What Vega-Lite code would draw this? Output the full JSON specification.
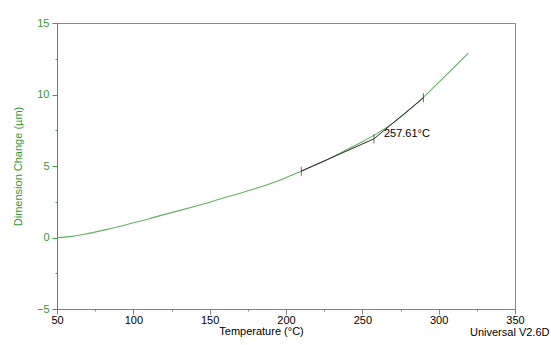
{
  "$schema": "https://vega.github.io/schema/vega-lite/v6.json",
  "width": 458,
  "height": 286,
  "autosize": {"type": "none"},
  "padding": {"left": 57, "top": 23, "right": 36, "bottom": 36},
  "background": "white",
  "config": {
    "font": "Liberation Sans",
    "view": {"stroke": "#8a8a8a", "strokeWidth": 1},
    "axis": {"grid": false, "labelFont": "Liberation Sans", "titleFont": "Liberation Sans", "labelFontSize": 11, "titleFontSize": 11, "titleFontWeight": "normal"}
  },
  "title": {
    "text": "Universal V2.6D TA Instruments",
    "orient": "bottom",
    "anchor": "end",
    "frame": "group",
    "align": "left",
    "dx": -45,
    "offset": -9,
    "fontSize": 11,
    "fontWeight": "normal",
    "font": "Liberation Sans",
    "color": "#000000"
  },
  "datasets": {
    "curve": [
      {"T": 50, "D": 0}, {"T": 60, "D": 0.08}, {"T": 70, "D": 0.27}, {"T": 80, "D": 0.5},
      {"T": 90, "D": 0.75}, {"T": 100, "D": 1.03}, {"T": 110, "D": 1.3}, {"T": 120, "D": 1.6},
      {"T": 130, "D": 1.88}, {"T": 140, "D": 2.17}, {"T": 150, "D": 2.47}, {"T": 160, "D": 2.8},
      {"T": 170, "D": 3.1}, {"T": 180, "D": 3.42}, {"T": 190, "D": 3.77}, {"T": 200, "D": 4.18},
      {"T": 210, "D": 4.64}, {"T": 220, "D": 5.1}, {"T": 230, "D": 5.6}, {"T": 240, "D": 6.15},
      {"T": 250, "D": 6.7}, {"T": 260, "D": 7.3}, {"T": 270, "D": 8.0}, {"T": 280, "D": 8.85},
      {"T": 290, "D": 9.8}, {"T": 300, "D": 10.85}, {"T": 310, "D": 11.9}, {"T": 319.4, "D": 12.9}
    ],
    "tangents": [
      {"seg": "a", "T": 210, "D": 4.64}, {"seg": "a", "T": 257.61, "D": 6.9},
      {"seg": "b", "T": 257.61, "D": 6.9}, {"seg": "b", "T": 290, "D": 9.77}
    ],
    "marks": [
      {"T": 210, "D": 4.64, "label": ""},
      {"T": 257.61, "D": 6.9, "label": "257.61°C"},
      {"T": 290, "D": 9.77, "label": ""}
    ],
    "border": [{"T": 350}]
  },
  "encoding": {
    "x": {
      "field": "T", "type": "quantitative",
      "scale": {"domain": [50, 350], "nice": false, "zero": false},
      "axis": {
        "title": "Temperature (°C)",
        "values": [50, 75, 100, 125, 150, 175, 200, 225, 250, 275, 300, 325, 350],
        "labelExpr": "datum.value % 50 === 0 ? datum.label : ''",
        "tickSize": {"condition": {"test": "datum.value % 50 === 0", "value": 5}, "value": 2},
        "domainColor": "#808080", "tickColor": "#808080", "labelColor": "#000000", "titleColor": "#000000",
        "labelFlush": false, "labelOverlap": false,
        "labelPadding": 0, "titlePadding": 0, "titleX": 204
      }
    },
    "y": {
      "field": "D", "type": "quantitative",
      "scale": {"domain": [-5, 15], "nice": false, "zero": false},
      "axis": {
        "title": "Dimension Change (µm)",
        "values": [-5, -2.5, 0, 2.5, 5, 7.5, 10, 12.5, 15],
        "labelExpr": "datum.value % 5 === 0 ? datum.label : ''",
        "tickSize": {"condition": {"test": "datum.value % 5 === 0", "value": 5}, "value": 2},
        "domainColor": "#3f9f3f", "tickColor": "#3f9f3f", "labelColor": "#339933", "titleColor": "#339933",
        "labelFlush": false, "labelOverlap": false,
        "labelPadding": 3, "titlePadding": 13
      }
    }
  },
  "layer": [
    {
      "data": {"name": "border"},
      "mark": {"type": "rule", "color": "#4caa4c", "strokeWidth": 1},
      "encoding": {"y": {"datum": -5}, "y2": {"datum": 15}}
    },
    {
      "data": {"name": "curve"},
      "mark": {"type": "line", "color": "#62b062", "strokeWidth": 1.1, "interpolate": "monotone"}
    },
    {
      "data": {"name": "tangents"},
      "mark": {"type": "line", "color": "#2a2a2a", "strokeWidth": 1},
      "encoding": {"detail": {"field": "seg"}}
    },
    {
      "data": {"name": "marks"},
      "mark": {"type": "tick", "orient": "vertical", "color": "#2a2a2a", "size": 9, "thickness": 1}
    },
    {
      "data": {"name": "marks"},
      "mark": {"type": "text", "align": "left", "baseline": "middle", "dx": 10, "dy": -5, "fontSize": 11, "font": "Liberation Sans", "color": "#000000"},
      "encoding": {"text": {"field": "label"}}
    }
  ]
}
